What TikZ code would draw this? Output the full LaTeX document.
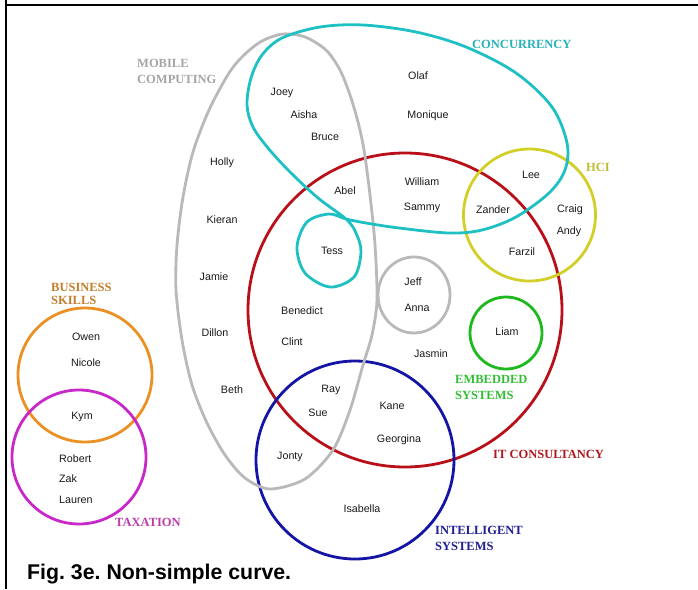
\documentclass[tikz,border=0pt]{standalone}
\usepackage{fontspec}
\setmainfont{Liberation Sans}
\newfontfamily\labfont{Liberation Serif}
\frenchspacing
\definecolor{cgray}{RGB}{185,185,185}
\definecolor{lgray}{RGB}{165,165,165}
\definecolor{ccyan}{RGB}{30,192,196}
\definecolor{lcyan}{RGB}{40,178,182}
\definecolor{cred}{RGB}{185,15,25}
\definecolor{lred}{RGB}{175,25,30}
\definecolor{cyel}{RGB}{210,208,40}
\definecolor{lyel}{RGB}{190,188,50}
\definecolor{cgreen}{RGB}{30,185,30}
\definecolor{lgreen}{RGB}{50,190,50}
\definecolor{cblue}{RGB}{20,20,165}
\definecolor{lblue}{RGB}{30,30,150}
\definecolor{corange}{RGB}{235,145,35}
\definecolor{lorange}{RGB}{195,125,45}
\definecolor{cmag}{RGB}{200,40,200}
\definecolor{lmag}{RGB}{190,60,170}
\definecolor{namecol}{RGB}{25,25,25}
\begin{document}
\begin{tikzpicture}[x=1pt,y=-1pt,
  curve/.style={line width=2.8pt},
  nm/.style={font=\fontsize{10.7}{12}\selectfont, text=namecol, inner sep=0pt, text height=7.6pt, text depth=0pt, anchor=center},
  lab/.style={font=\labfont\bfseries\fontsize{12.5}{16}\selectfont, inner sep=0pt, anchor=base west, align=left},
  frame/.style={line width=2pt, black}]
\useasboundingbox (0,0) rectangle (698,589);
% frame
\coordinate (fl) at (6,0);
\coordinate (fc) at (6,5);
\coordinate (fb) at (6,589);
\coordinate (fr) at (698,5);
\draw[frame] (fl) -- (fb);
\draw[frame] (fc) -- (fr);
% curves
\draw[curve, cred] (405,310) circle (157);
\draw[curve, cblue] (355,460) circle (99);
\draw[curve, cyel] (529.5,215) circle (66);
\draw[curve, cgreen] (506,333) circle (36);
\draw[curve, corange] (85,375) circle (67);
\draw[curve, cmag] (79,457) circle (67);
% mobile computing
\draw[curve, cgray] plot[smooth cycle, tension=0.5] coordinates {
  (283,34) (305,37) (326,50) (340,70) (350,95) (358,122) (364,150) (370,195)
  (375,245) (377,300) (372,335) (363,365) (350,410) (333,450) (305,479)
  (270,489) (245,478) (225,455) (207,423) (192,385) (182,340) (176,290)
  (177,245) (183,197) (193,152) (209,110) (229,73) (244,55) (262,41)};
\draw[curve, cgray] (414,295) ellipse (36 and 38);
% concurrency
\draw[curve, ccyan] plot[smooth cycle, tension=0.55] coordinates {
  (247,105) (251,78) (262,55) (282,38) (320,27) (363,25) (416,32) (466,47)
  (516,73) (552,107) (567,143) (565,170) (549,193) (516,217) (482,230)
  (449,233) (399,228) (366,223) (346,219) (329,214) (307,222) (297,247)
  (305,273) (330,287) (354,277) (361,252) (356,233) (346,219) (318,198)
  (290,172) (268,148) (253,127)};
% labels
\node[lab, text=lgray] (lmob) at (137,83.2) {MOBILE\\COMPUTING};
\node[lab, text=lcyan] (lcon) at (472,48.7) {CONCURRENCY};
\node[lab, text=lyel] (lhci) at (586,171.6) {HCI};
\node[lab, text=lorange, font=\labfont\bfseries\fontsize{12.5}{12.5}\selectfont] (lbus) at (51,304.1) {BUSINESS\\SKILLS};
\node[lab, text=lmag] (ltax) at (115,526.6) {TAXATION};
\node[lab, text=lgreen] (lemb) at (455,399.6) {EMBEDDED\\SYSTEMS};
\node[lab, text=lred] (litc) at (493,458.6) {IT CONSULTANCY};
\node[lab, text=lblue] (lint) at (435,550.6) {INTELLIGENT\\SYSTEMS};
% names
\node[nm] (joey) at (282,92) {Joey};
\node[nm] (aisha) at (304,115) {Aisha};
\node[nm] (bruce) at (325,137) {Bruce};
\node[nm] (holly) at (222,162) {Holly};
\node[nm] (abel) at (345,191) {Abel};
\node[nm] (kieran) at (222,220) {Kieran};
\node[nm] (tess) at (332,251) {Tess};
\node[nm] (jamie) at (214,277) {Jamie};
\node[nm] (olaf) at (418,76) {Olaf};
\node[nm] (monique) at (428,115) {Monique};
\node[nm] (william) at (422,182) {William};
\node[nm] (sammy) at (422,207) {Sammy};
\node[nm] (lee) at (531,175) {Lee};
\node[nm] (zander) at (493,210) {Zander};
\node[nm] (craig) at (570,209) {Craig};
\node[nm] (andy) at (569,231) {Andy};
\node[nm] (farzil) at (522,252) {Farzil};
\node[nm] (jeff) at (413,282) {Jeff};
\node[nm] (anna) at (417,308) {Anna};
\node[nm] (liam) at (507,332) {Liam};
\node[nm] (jasmin) at (431,354) {Jasmin};
\node[nm] (kane) at (392,406) {Kane};
\node[nm] (georgina) at (399,439) {Georgina};
\node[nm] (isabella) at (362,509) {Isabella};
\node[nm] (benedict) at (302,311) {Benedict};
\node[nm] (clint) at (292,342) {Clint};
\node[nm] (dillon) at (215,333) {Dillon};
\node[nm] (beth) at (232,390) {Beth};
\node[nm] (ray) at (331,389) {Ray};
\node[nm] (sue) at (318,413) {Sue};
\node[nm] (jonty) at (290,456) {Jonty};
\node[nm] (owen) at (86,337) {Owen};
\node[nm] (nicole) at (86,363) {Nicole};
\node[nm] (kym) at (82,416) {Kym};
\node[nm, anchor=west] (robert) at (59,459) {Robert};
\node[nm, anchor=west] (zak) at (59,479) {Zak};
\node[nm, anchor=west] (lauren) at (59,500) {Lauren};
% caption
\node[font=\bfseries\fontsize{21.3}{24}\selectfont, inner sep=0pt, anchor=base west] (cap) at (27,579) {Fig. 3e. Non-simple curve.};
\end{tikzpicture}
\end{document}
